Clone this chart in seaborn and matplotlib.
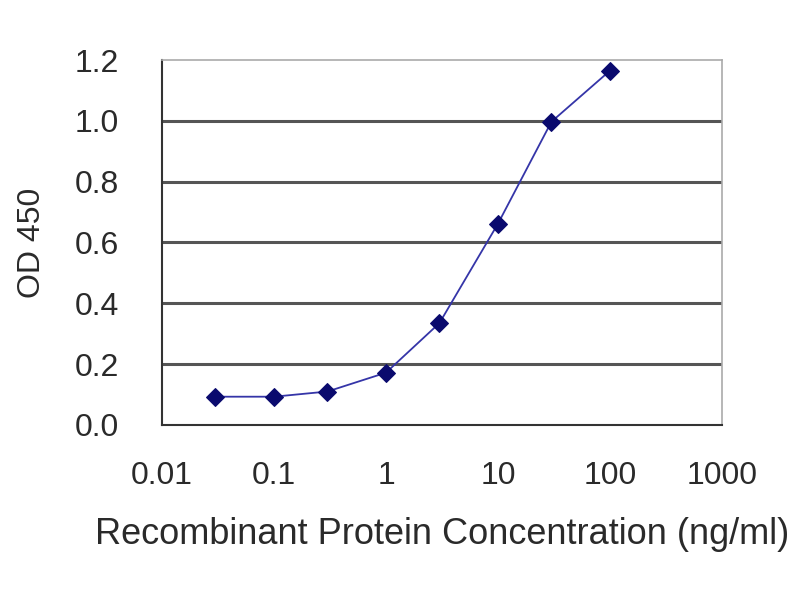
import matplotlib
matplotlib.use("Agg")
import matplotlib.pyplot as plt
import pandas as pd
import seaborn as sns

# concentration (ng/ml) and OD 450 readings
concentration = [0.03, 0.1, 0.3, 1, 3, 10, 30, 100]
od450 = [0.093, 0.093, 0.11, 0.172, 0.335, 0.662, 0.997, 1.165]
y_ticks = [0.0, 0.2, 0.4, 0.6, 0.8, 1.0, 1.2]
x_ticks = [0.01, 0.1, 1, 10, 100, 1000]
x_tick_labels = ["0.01", "0.1", "1", "10", "100", "1000"]

df = pd.DataFrame({"conc": concentration, "od": od450})

sns.set_style("white")
plt.rcParams["font.family"] = ["Liberation Sans", "DejaVu Sans"]

fig = plt.figure(figsize=(8, 6), dpi=100)
ax = fig.add_axes([0.2025, 0.2917, 0.70, 0.6083])

sns.lineplot(
    data=df,
    x="conc",
    y="od",
    color="#3535a8",
    linewidth=1.3,
    marker="D",
    markersize=9,
    markerfacecolor="#0a0a6e",
    markeredgecolor="#0a0a6e",
    ax=ax,
)

ax.set_xscale("log")
ax.set_xlim(0.01, 1000)
ax.set_ylim(0, 1.2)
ax.set_xticks(x_ticks)
ax.set_xticklabels(x_tick_labels)
ax.minorticks_off()
ax.set_yticks(y_ticks)
ax.set_yticklabels([f"{v:.1f}" for v in y_ticks])

for v in y_ticks[1:-1]:
    ax.axhline(v, color="#555555", linewidth=2.2, zorder=0)

ax.tick_params(axis="x", direction="in", length=6, width=1, color="#333333",
               labelsize=23, pad=26, labelcolor="#2a2a2a")
ax.tick_params(axis="y", direction="out", length=0, labelsize=23, pad=31,
               labelcolor="#2a2a2a")

for side in ["left", "bottom"]:
    ax.spines[side].set_color("#333333")
    ax.spines[side].set_linewidth(1.5)
for side in ["top", "right"]:
    ax.spines[side].set_color("#aaaaaa")
    ax.spines[side].set_linewidth(1.2)

ax.set_xlabel("Recombinant Protein Concentration (ng/ml)", fontsize=26,
              color="#2a2a2a", labelpad=19)
ax.set_ylabel("OD 450", fontsize=23, color="#2a2a2a", labelpad=20)

fig.savefig("out.png", dpi=100, facecolor="white")
